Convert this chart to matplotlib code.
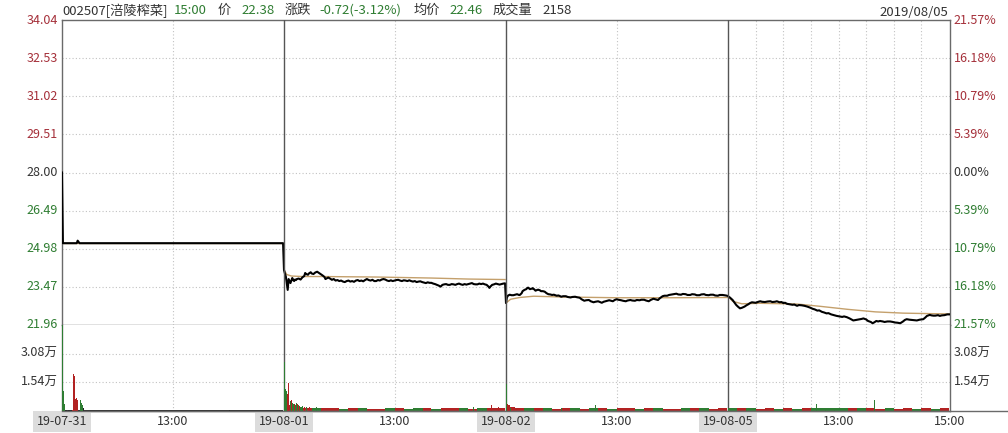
import matplotlib
matplotlib.use('Agg')
import matplotlib.pyplot as plt
from matplotlib.lines import Line2D

plt.rcParams['font.family'] = ['Noto Sans CJK SC', 'DejaVu Sans']

# ---- price data (minute of day, price) ----
d1_min = [0, 1, 16, 17, 18, 19, 240]
d1_px = [28.00, 25.20, 25.20, 25.30, 25.25, 25.20, 25.20]

d2_min = [0, 1, 2, 3, 4, 5, 6, 7, 8, 9, 10, 11, 12, 13, 14, 16, 18, 20, 22, 23, 24, 26,
          27, 29, 30, 32, 34, 36, 38, 39, 41, 42, 44, 45, 47, 48, 50, 52, 54, 56, 58,
          60, 62, 64, 66, 68, 70, 72, 74, 76, 78, 80, 82, 84, 86, 88, 90, 92, 94, 96,
          98, 100, 102, 104, 106, 108, 110, 112, 114, 116, 118, 120, 122, 124, 126,
          128, 130, 132, 134, 136, 138, 140, 142, 144, 146, 148, 150, 152, 154, 156,
          158, 160, 162, 164, 166, 168, 170, 172, 174, 176, 178, 180, 182, 184, 186,
          188, 190, 192, 194, 196, 198, 200, 202, 204, 206, 208, 210, 212, 214, 216,
          218, 220, 222, 223, 224, 226, 228, 230, 232, 234, 236, 238, 240]
d2_px = [24.14, 24.00, 23.88, 23.60, 23.35, 23.78, 23.70, 23.62, 23.72, 23.82, 23.74,
         23.70, 23.76, 23.74, 23.78, 23.80, 23.76, 23.85, 23.90, 24.02, 23.98, 23.95,
         24.00, 24.05, 24.00, 23.98, 24.04, 24.07, 24.02, 24.00, 23.95, 23.92, 23.86,
         23.78, 23.82, 23.84, 23.80, 23.75, 23.78, 23.72, 23.74, 23.70, 23.72, 23.68,
         23.66, 23.70, 23.72, 23.68, 23.70, 23.67, 23.72, 23.74, 23.70, 23.72, 23.69,
         23.74, 23.78, 23.74, 23.72, 23.75, 23.70, 23.70, 23.74, 23.72, 23.76, 23.78,
         23.76, 23.72, 23.70, 23.73, 23.70, 23.72, 23.74, 23.75, 23.72, 23.70, 23.73,
         23.72, 23.70, 23.73, 23.70, 23.68, 23.70, 23.66, 23.68, 23.69, 23.66, 23.64,
         23.62, 23.65, 23.63, 23.63, 23.60, 23.58, 23.55, 23.52, 23.48, 23.55, 23.57,
         23.58, 23.55, 23.55, 23.58, 23.57, 23.55, 23.58, 23.60, 23.57, 23.55, 23.58,
         23.56, 23.58, 23.60, 23.62, 23.58, 23.57, 23.57, 23.60, 23.58, 23.60, 23.57,
         23.55, 23.48, 23.43, 23.48, 23.55, 23.57, 23.60, 23.58, 23.56, 23.58, 23.60,
         23.61]

d3_min = [0, 1, 2, 4, 6, 8, 10, 12, 14, 15, 17, 18, 20, 22, 23, 24, 26, 28, 29, 31, 32,
          34, 35, 37, 38, 40, 42, 44, 46, 48, 50, 52, 55, 57, 60, 62, 65, 67, 70, 72,
          75, 77, 80, 82, 85, 87, 90, 92, 95, 97, 100, 102, 104, 106, 108, 110, 112,
          114, 116, 118, 120, 122, 125, 127, 130, 132, 135, 137, 140, 142, 145, 147,
          150, 152, 155, 157, 160, 162, 165, 167, 170, 172, 175, 177, 180, 182, 185,
          187, 190, 192, 195, 197, 200, 202, 205, 207, 210, 212, 215, 217, 220, 222,
          225, 227, 230, 232, 235, 237, 240]
d3_px = [22.83, 23.05, 23.12, 23.16, 23.14, 23.14, 23.16, 23.18, 23.15, 23.15, 23.22,
         23.30, 23.35, 23.38, 23.42, 23.44, 23.38, 23.40, 23.42, 23.36, 23.32, 23.35,
         23.36, 23.33, 23.30, 23.30, 23.28, 23.22, 23.18, 23.17, 23.15, 23.16, 23.12,
         23.13, 23.08, 23.10, 23.10, 23.07, 23.05, 23.07, 23.08, 23.06, 23.04, 22.98,
         22.92, 22.94, 22.95, 22.90, 22.86, 22.88, 22.90, 22.87, 22.84, 22.88, 22.90,
         22.92, 22.94, 22.92, 22.90, 22.95, 22.98, 22.96, 22.94, 22.92, 22.90, 22.93,
         22.95, 22.93, 22.92, 22.95, 22.94, 22.96, 22.96, 22.93, 22.90, 22.95, 23.00,
         22.98, 22.95, 23.02, 23.10, 23.12, 23.12, 23.15, 23.17, 23.18, 23.20, 23.17,
         23.16, 23.19, 23.18, 23.15, 23.15, 23.18, 23.17, 23.14, 23.14, 23.17, 23.18,
         23.15, 23.14, 23.16, 23.16, 23.13, 23.12, 23.15, 23.15, 23.14, 23.12]

d4_min = [0, 2, 5, 7, 9, 11, 13, 15, 18, 20, 22, 24, 26, 28, 30, 33, 35, 37, 40, 43,
          46, 48, 51, 53, 56, 58, 60, 62, 64, 67, 70, 72, 75, 77, 80, 83, 86, 89, 92,
          94, 97, 99, 102, 104, 107, 109, 112, 115, 118, 121, 124, 126, 129, 132, 134,
          136, 139, 142, 145, 147, 150, 152, 155, 157, 159, 161, 163, 165, 168, 170,
          173, 176, 179, 181, 184, 187, 190, 192, 194, 197, 200, 202, 205, 208, 210,
          212, 214, 216, 219, 221, 223, 225, 228, 230, 232, 235, 237, 238, 240]
d4_px = [23.10, 23.05, 22.95, 22.85, 22.75, 22.68, 22.62, 22.64, 22.69, 22.74, 22.78,
         22.83, 22.86, 22.85, 22.84, 22.88, 22.90, 22.88, 22.87, 22.89, 22.90, 22.87,
         22.88, 22.90, 22.86, 22.87, 22.83, 22.84, 22.80, 22.78, 22.76, 22.77, 22.72,
         22.75, 22.74, 22.72, 22.69, 22.65, 22.60, 22.58, 22.53, 22.54, 22.48, 22.46,
         22.42, 22.43, 22.38, 22.35, 22.32, 22.30, 22.28, 22.30, 22.27, 22.22, 22.18,
         22.14, 22.16, 22.18, 22.20, 22.22, 22.18, 22.12, 22.08, 22.03, 22.07, 22.12,
         22.10, 22.12, 22.10, 22.08, 22.10, 22.10, 22.08, 22.06, 22.05, 22.03, 22.10,
         22.16, 22.19, 22.17, 22.16, 22.15, 22.14, 22.17, 22.18, 22.19, 22.25, 22.32,
         22.36, 22.34, 22.33, 22.33, 22.35, 22.32, 22.34, 22.35, 22.37, 22.38, 22.38]

# ---- average price ----
d1_avg_min = [0, 240]
d1_avg = [25.20, 25.20]
d2_avg_min = [0, 3, 8, 20, 40, 100, 160, 200, 240]
d2_avg = [24.14, 23.96, 23.90, 23.88, 23.88, 23.86, 23.82, 23.78, 23.76]
d3_avg_min = [0, 5, 15, 30, 60, 120, 180, 240]
d3_avg = [22.83, 22.98, 23.05, 23.10, 23.07, 23.04, 23.04, 23.05]
d4_avg_min = [0, 5, 15, 35, 75, 100, 130, 160, 190, 220, 240]
d4_avg = [23.10, 22.90, 22.80, 22.82, 22.79, 22.70, 22.58, 22.48, 22.43, 22.41, 22.40]

# ---- volume (万) : notable bars ----
d1_vmin = [0, 1, 2, 3, 4, 5, 6, 7, 8, 9, 10, 11, 12, 13, 14, 15, 16, 17, 18, 19, 20, 21,
           22, 23, 43, 181]
d1_vol = [4.70, 1.10, 0.35, 0.08, 0.06, 0.06, 0.06, 0.05, 0.06, 0.05, 0.06, 0.08, 2.00,
          1.90, 0.65, 0.70, 0.60, 0.55, 0.80, 0.95, 0.60, 0.45, 0.30, 0.15, 0.45, 0.08]
d1_vcol = 'gggkkkkkkkkrrrrrrggggggkkk'

d2_vmin = [0, 1, 2, 3, 4, 5, 6, 7, 8, 9, 10, 11, 12, 13, 14, 15, 16, 17, 18, 20, 22, 24,
           27, 30, 35, 40, 150, 170, 205, 215, 225, 232]
d2_vol = [2.62, 1.20, 1.10, 0.90, 1.50, 1.20, 0.80, 0.55, 0.60, 0.45, 0.40, 0.35, 0.30,
          0.45, 0.35, 0.30, 0.25, 0.30, 0.20, 0.25, 0.20, 0.22, 0.20, 0.18, 0.20, 0.17,
          0.18, 0.20, 0.20, 0.15, 0.32, 0.20]
d2_vcol = 'gggrrrggrggrggrgrgrgrgrrgrggggrr'

d3_vmin = [0, 1, 2, 3, 4, 6, 60, 97]
d3_vol = [1.45, 0.35, 0.30, 0.32, 0.15, 0.20, 0.18, 0.32]
d3_vcol = 'grrrgrgg'

d4_vmin = [5, 20, 96, 105, 115, 159]
d4_vol = [0.15, 0.15, 0.37, 0.18, 0.15, 0.58]
d4_vcol = 'gggggg'

# ---- volume baseline, 10-minute blocks ----
d1_base = [0.04, 0.04, 0.04, 0.04, 0.04, 0.04, 0.04, 0.04, 0.04, 0.04, 0.04, 0.04,
           0.04, 0.04, 0.04, 0.04, 0.04, 0.04, 0.04, 0.04, 0.04, 0.04, 0.04, 0.04]
d1_bcol = 'kkkkkkkkkkkkkkkkkkkkkkkk'
d2_base = [0.30, 0.22, 0.18, 0.16, 0.15, 0.14, 0.13, 0.14, 0.15, 0.13, 0.13, 0.14,
           0.15, 0.13, 0.14, 0.15, 0.13, 0.15, 0.14, 0.15, 0.13, 0.16, 0.17, 0.18]
d2_bcol = 'rgrgrrgrgrrgrggrgrrgrgrr'
d3_base = [0.22, 0.16, 0.15, 0.14, 0.15, 0.13, 0.15, 0.14, 0.13, 0.15, 0.16, 0.13,
           0.14, 0.15, 0.13, 0.14, 0.15, 0.13, 0.13, 0.15, 0.14, 0.15, 0.13, 0.15]
d3_bcol = 'rrgrgrrgrgrgrrgrgrrgrgrr'
d4_base = [0.17, 0.15, 0.15, 0.13, 0.14, 0.13, 0.15, 0.13, 0.14, 0.15, 0.17, 0.16,
           0.15, 0.15, 0.14, 0.15, 0.13, 0.14, 0.13, 0.15, 0.13, 0.14, 0.13, 0.15]
d4_bcol = 'grgrrgrgrggggrgrrgrrgrgr'

# ---- axis labels ----
price_ticks = [34.04, 32.53, 31.02, 29.51, 28.00, 26.49, 24.98, 23.47, 21.96]
pct_labels = ['21.57%', '16.18%', '10.79%', '5.39%', '0.00%', '5.39%', '10.79%',
              '16.18%', '21.57%']
vol_ticks = [3.08, 1.54]
vol_labels = ['3.08万', '1.54万']
day_labels = ['19-07-31', '19-08-01', '19-08-02', '19-08-05']

RED = '#a5303a'
GRN = '#2f7d32'
DARK = '#333333'
BAR_C = {'r': '#b22222', 'g': '#2e7d32', 'k': '#222222'}
DAY = 241

W, H = 1008, 433
fig = plt.figure(figsize=(W / 100, H / 100), dpi=100)
ax = fig.add_axes([62 / W, 1 - 325 / H, 888 / W, 305 / H])
axv = fig.add_axes([62 / W, 1 - 411 / H, 888 / W, 86 / H])

days_min = [d1_min, d2_min, d3_min, d4_min]
days_px = [d1_px, d2_px, d3_px, d4_px]
days_amin = [d1_avg_min, d2_avg_min, d3_avg_min, d4_avg_min]
days_avg = [d1_avg, d2_avg, d3_avg, d4_avg]

xs, ys = [], []
for d in range(4):
    xs += [d * DAY + m for m in days_min[d]]
    ys += days_px[d]
    ax.plot([d * DAY + m for m in days_amin[d]], days_avg[d], color='#c4a06c', lw=1.0, zorder=2)
ax.plot(xs, ys, color='black', lw=1.5, zorder=3)

ax.set_xlim(0, 4 * DAY)
ax.set_ylim(21.96, 34.04)
axv.set_xlim(0, 4 * DAY)
axv.set_ylim(0, 4.62)

# volume bars
bases = [d1_base, d2_base, d3_base, d4_base]
bcols = [d1_bcol, d2_bcol, d3_bcol, d4_bcol]
vmins = [d1_vmin, d2_vmin, d3_vmin, d4_vmin]
vols = [d1_vol, d2_vol, d3_vol, d4_vol]
vcols = [d1_vcol, d2_vcol, d3_vcol, d4_vcol]
for d in range(4):
    bx = [d * DAY + 10 * i for i in range(len(bases[d]))]
    axv.bar(bx, bases[d], width=10, align='edge',
            color=[BAR_C[c] for c in bcols[d]], zorder=2)
    sx = [d * DAY + m for m in vmins[d]]
    axv.bar(sx, vols[d], width=0.9, align='edge',
            color=[BAR_C[c] for c in vcols[d]], zorder=3)

# grids
for a in (ax, axv):
    a.set_xticks([])
    a.set_yticks([])
    for s in a.spines.values():
        s.set_color('#6a6a6a')
        s.set_linewidth(1)
axv.spines['top'].set_visible(False)

dot = dict(color='#c2c2c2', lw=0.8, ls=(0, (1, 2)), zorder=1)
for p in price_ticks[1:-1]:
    ax.axhline(p, **dot)
for v in vol_ticks:
    axv.axhline(v, **dot)
mid_lines = [d * DAY + 120.5 for d in range(4)] + [3 * DAY + 30 * k for k in (1, 2, 3, 5, 6, 7)]
for x in mid_lines:
    ax.axvline(x, **dot)
    axv.axvline(x, **dot)
for d in (1, 2, 3):
    ax.axvline(d * DAY, color='#555555', lw=1, zorder=4)
    axv.axvline(d * DAY, color='#555555', lw=1, zorder=1.5)

# y labels
for i, (p, pl) in enumerate(zip(price_ticks, pct_labels)):
    c = RED if i < 4 else (DARK if i == 4 else GRN)
    ax.text(-0.005, p, f'{p:.2f}', transform=ax.get_yaxis_transform(),
            ha='right', va='center', fontsize=9, color=c)
    ax.text(1.004, p, pl, transform=ax.get_yaxis_transform(),
            ha='left', va='center', fontsize=9, color=c)
for v, vl in zip(vol_ticks, vol_labels):
    axv.text(-0.005, v, vl, transform=axv.get_yaxis_transform(),
             ha='right', va='center', fontsize=9, color=DARK)
    axv.text(1.004, v, vl, transform=axv.get_yaxis_transform(),
             ha='left', va='center', fontsize=9, color=DARK)

# x labels
for d in range(4):
    axv.text(d * DAY, -0.12, day_labels[d], transform=axv.get_xaxis_transform(),
             ha='center', va='center', fontsize=9, color=DARK,
             bbox=dict(boxstyle='square,pad=0.3', fc='#dcdcdc', ec='none'))
    axv.text(d * DAY + 120.5, -0.12, '13:00', transform=axv.get_xaxis_transform(),
             ha='center', va='center', fontsize=9, color=DARK)
axv.text(4 * DAY, -0.12, '15:00', transform=axv.get_xaxis_transform(),
         ha='center', va='center', fontsize=9, color=DARK)

fig.add_artist(Line2D([62 / W, 1.0], [1 - 411 / H] * 2, color='#6a6a6a', lw=1))

# header
hy = 1 - 10.5 / H
header = [(62, '002507[涪陵榨菜]', DARK), (174, '15:00', GRN), (218, '价', DARK),
          (241, '22.38', GRN), (285, '涨跌', DARK), (319, '-0.72(-3.12%)', GRN),
          (414, '均价', DARK), (449, '22.46', GRN), (493, '成交量', DARK),
          (542, '2158', DARK)]
for x, t, c in header:
    fig.text(x / W, hy, t, ha='left', va='center', fontsize=9.5, color=c)
fig.text(948 / W, 1 - 12.5 / H, '2019/08/05', ha='right', va='center', fontsize=9.5, color=DARK)

fig.savefig('out.png', dpi=100, facecolor='white')
